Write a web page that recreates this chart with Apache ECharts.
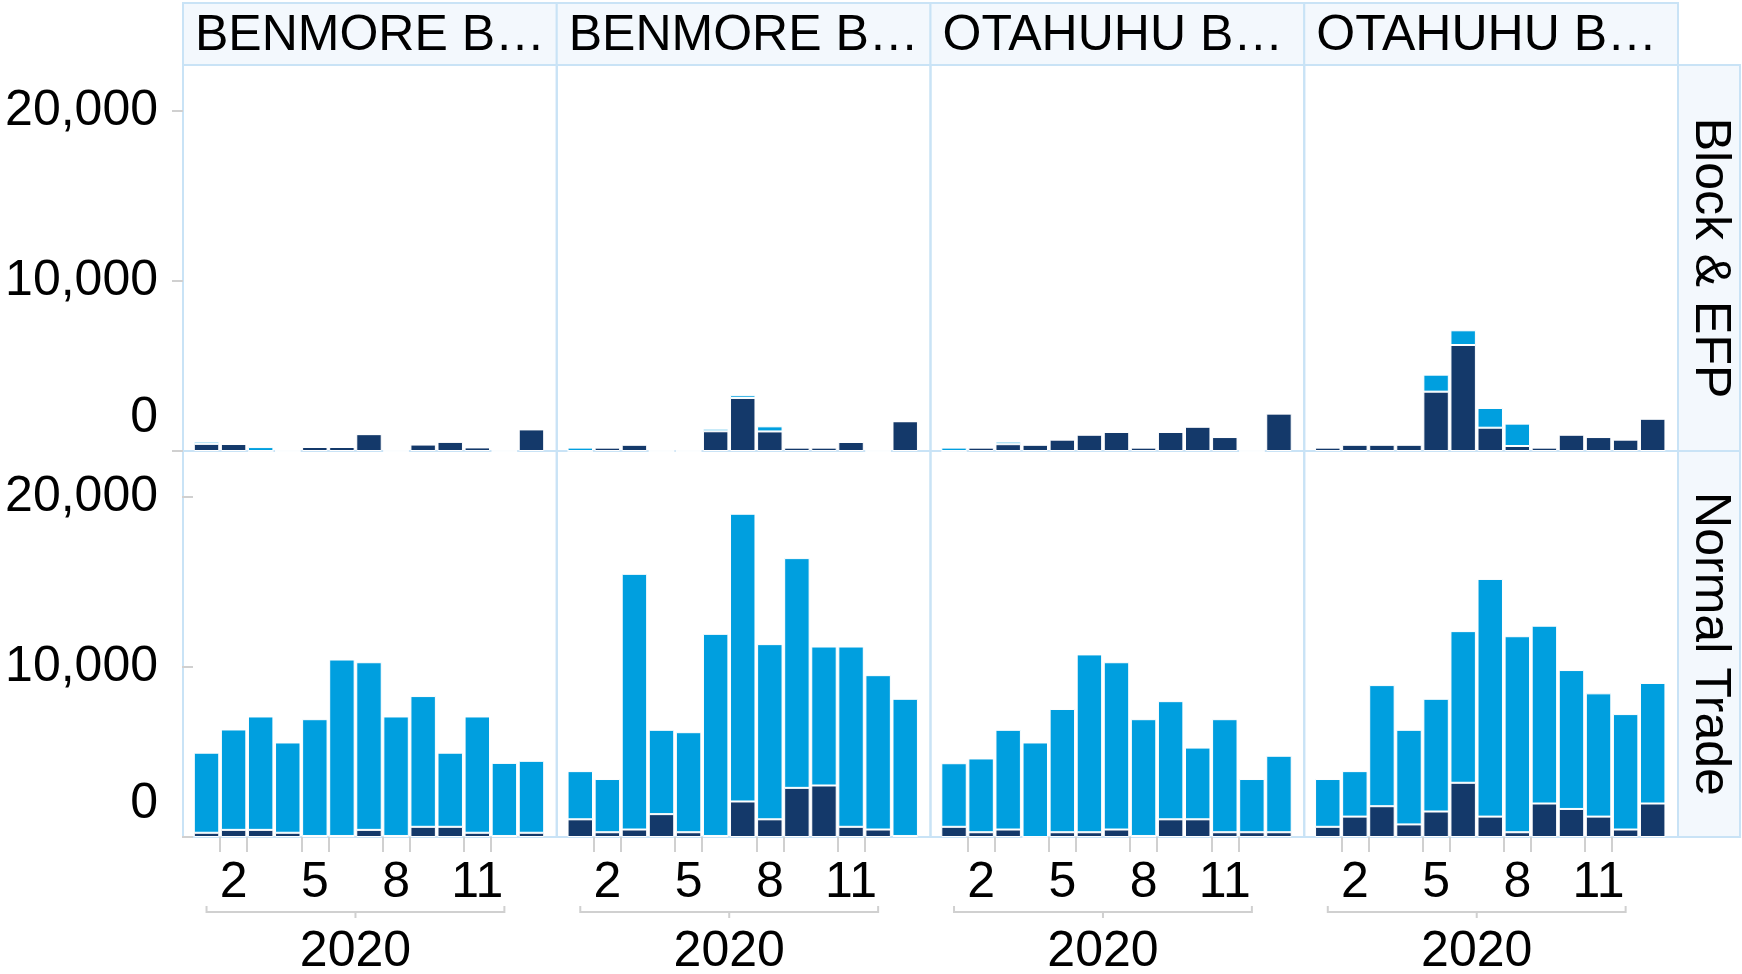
<!DOCTYPE html>
<html>
<head>
<meta charset="utf-8">
<script src="https://cdn.jsdelivr.net/npm/echarts@6/dist/echarts.min.js"></script>
<style>
html,body{margin:0;padding:0;background:#fff;}
#chart{width:1742px;height:974px;}
</style>
</head>
<body>
<div id="chart"></div>
<script>
// ---------- data ----------
const months = ['2020-01','2020-02','2020-03','2020-04','2020-05','2020-06','2020-07',
                '2020-08','2020-09','2020-10','2020-11','2020-12','2021-01'];
const labelledMonths = ['2020-02','2020-05','2020-08','2020-11'];
const tickBoundaries = [1, 2, 4, 5, 7, 8, 10, 11];
const yearSpan = ['2020-01', '2020-12'];
const yearLabel = '2020';
const panelTitles = ['BENMORE B…', 'BENMORE B…', 'OTAHUHU B…', 'OTAHUHU B…'];
const rowTitles = ['Block & EFP', 'Normal Trade'];
const yTickValues = [0, 10000, 20000];

// Panel 1
const p1BlockDark   = [420, 410, 0, 0, 235, 235, 990, 0, 380, 540, 210, 0, 1270];
const p1BlockLight  = [130, 0, 230, 0, 0, 0, 0, 0, 0, 0, 0, 0, 0];
const p1NormalDark  = [250, 420, 420, 250, 60, 60, 420, 60, 600, 600, 250, 60, 250];
const p1NormalLight = [4710, 5905, 6670, 5310, 6870, 10380, 9860, 7030, 7690, 4360, 6840, 4300, 4230];
// Panel 2
const p2BlockDark   = [0, 200, 370, 0, 0, 1160, 3120, 1150, 200, 200, 530, 0, 1750];
const p2BlockLight  = [200, 0, 0, 0, 0, 150, 160, 300, 0, 0, 0, 0, 0];
const p2NormalDark  = [1040, 280, 440, 1345, 280, 60, 2090, 1040, 2890, 3030, 600, 440, 60];
const p2NormalLight = [2835, 3130, 15040, 4960, 5885, 11890, 16925, 10305, 13515, 8175, 10605, 9080, 8070];
// Panel 3
const p3BlockDark   = [0, 200, 400, 370, 670, 960, 1120, 200, 1120, 1430, 820, 0, 2200];
const p3BlockLight  = [200, 0, 150, 0, 0, 0, 0, 0, 0, 0, 0, 0, 0];
const p3NormalDark  = [600, 280, 440, 0, 280, 280, 440, 60, 1040, 1040, 280, 280, 280];
const p3NormalLight = [3740, 4340, 5865, 5560, 7250, 10460, 9840, 6870, 6950, 4220, 6650, 3130, 4500];
// Panel 4
const p4BlockDark   = [200, 370, 370, 370, 3490, 6235, 1370, 295, 200, 960, 820, 670, 1900];
const p4BlockLight  = [0, 0, 0, 0, 1000, 865, 1160, 1315, 0, 0, 0, 0, 0];
const p4NormalDark  = [600, 1200, 1810, 740, 1500, 3190, 1200, 280, 1970, 1650, 1200, 440, 1970];
const p4NormalLight = [2810, 2675, 7125, 5565, 6630, 8920, 13980, 11530, 10460, 8170, 7250, 6790, 7090];

const panelData = [
  [[p1BlockDark, p1BlockLight], [p2BlockDark, p2BlockLight], [p3BlockDark, p3BlockLight], [p4BlockDark, p4BlockLight]],
  [[p1NormalDark, p1NormalLight], [p2NormalDark, p2NormalLight], [p3NormalDark, p3NormalLight], [p4NormalDark, p4NormalLight]]
];

// ---------- styling / layout ----------
const FONT = '"Liberation Sans", Arial, Helvetica, sans-serif';
const FS = 50;
const TXT = '#000';
const DARK = '#14396A';
const LIGHT = '#009FDF';
const EDGE = '#C9E3F6';
const BG = '#F3F8FD';
const GREY = '#D0D0D0';
const PL = 183, PW = 373.75, ROW_T = [65, 451], RH = 386;
const GIN = 10, GW = 352, YMAX = 22706;
const HEAD_T = 3, STRIP_L = PL + 4 * PW, STRIP_W = 62;

const chart = echarts.init(document.getElementById('chart'), null, {renderer: 'canvas'});

const grids = [], xAxes = [], yAxes = [], series = [];
const tickAxes = [];
for (let r = 0; r < 2; r++) {
  for (let c = 0; c < 4; c++) {
    const g = r * 4 + c;
    grids.push({left: PL + c * PW + GIN, top: ROW_T[r], width: GW, height: RH, containLabel: false});
    xAxes.push({
      type: 'category', gridIndex: g, data: months, boundaryGap: true,
      axisLine: {show: false}, axisTick: {show: false}, splitLine: {show: false},
      axisLabel: {
        show: r === 1,
        interval: (i, v) => labelledMonths.includes(v),
        formatter: v => String(Number(v.slice(5))),
        fontSize: FS, fontFamily: FONT, color: TXT, margin: 21
      }
    });
    yAxes.push({
      type: 'value', gridIndex: g, min: 0, max: YMAX,
      offset: c === 0 ? GIN : 0,
      splitLine: {show: false},
      axisLine: {show: false},
      axisTick: {show: c === 0, length: 11, customValues: yTickValues, lineStyle: {color: GREY, width: 2}},
      axisLabel: {
        show: c === 0, customValues: yTickValues, margin: 25,
        fontSize: FS, fontFamily: FONT, color: TXT,
        formatter: v => v === 0 ? '{z|0}' : v.toLocaleString('en-US'),
        rich: {z: {fontSize: FS, fontFamily: FONT, color: TXT, padding: [0, 0, 66, 0]}}
      }
    });
    const [dark, light] = panelData[r][c];
    series.push({
      type: 'bar', name: 'Dark', xAxisIndex: g, yAxisIndex: g, stack: 's' + g, data: dark,
      barCategoryGap: '6%', itemStyle: {color: DARK, borderColor: '#fff', borderWidth: 1},
      emphasis: {disabled: true}
    });
    series.push({
      type: 'bar', name: 'Light', xAxisIndex: g, yAxisIndex: g, stack: 's' + g, data: light,
      barCategoryGap: '6%', itemStyle: {color: LIGHT, borderColor: '#fff', borderWidth: 1},
      emphasis: {disabled: true}
    });
    if (r === 1) tickAxes.push(g);
  }
}
// tick-mark axes for bottom row (ticks at month boundaries around labelled months)
tickAxes.forEach(g => {
  xAxes.push({
    type: 'value', gridIndex: g, min: 0, max: months.length, position: 'bottom',
    axisLine: {show: false}, splitLine: {show: false}, axisLabel: {show: false},
    axisTick: {show: true, length: 15, customValues: tickBoundaries, lineStyle: {color: GREY, width: 2}}
  });
});

// static graphics: headers, panel borders, row strips
const staticGraphics = [];
for (let c = 0; c < 4; c++) {
  staticGraphics.push({
    type: 'rect', id: 'head' + c, z: 0,
    shape: {x: PL + c * PW, y: HEAD_T, width: PW, height: ROW_T[0] - HEAD_T},
    style: {fill: BG, stroke: EDGE, lineWidth: 2}
  });
  staticGraphics.push({
    type: 'text', id: 'headT' + c, z: 1, x: PL + c * PW + 12, y: (HEAD_T + ROW_T[0]) / 2 + 2,
    style: {text: panelTitles[c], font: FS + 'px ' + FONT, fill: TXT, align: 'left', verticalAlign: 'middle'}
  });
  for (let r = 0; r < 2; r++) {
    staticGraphics.push({
      type: 'rect', id: 'pan' + r + c, z: 0,
      shape: {x: PL + c * PW, y: ROW_T[r], width: PW, height: RH},
      style: {fill: 'none', stroke: EDGE, lineWidth: 2}
    });
  }
}
for (let r = 0; r < 2; r++) {
  staticGraphics.push({
    type: 'rect', id: 'strip' + r, z: 0,
    shape: {x: STRIP_L, y: ROW_T[r], width: STRIP_W, height: RH},
    style: {fill: BG, stroke: EDGE, lineWidth: 2}
  });
  staticGraphics.push({
    type: 'text', id: 'stripT' + r, z: 1, x: STRIP_L + STRIP_W / 2 + 1, y: ROW_T[r] + RH / 2,
    rotation: -Math.PI / 2,
    style: {text: rowTitles[r], font: FS + 'px ' + FONT, fill: TXT, align: 'center', verticalAlign: 'middle'}
  });
}

chart.setOption({
  animation: false,
  grid: grids, xAxis: xAxes, yAxis: yAxes, series: series,
  graphic: {elements: staticGraphics}
});

// year brackets under the bottom row, positioned through the axes' own scales
const brackets = [];
const baseY = ROW_T[1] + RH;
tickAxes.forEach((g, k) => {
  const i0 = months.indexOf(yearSpan[0]), i1 = months.indexOf(yearSpan[1]);
  const x0 = chart.convertToPixel({xAxisIndex: g}, i0);
  const x1 = chart.convertToPixel({xAxisIndex: g}, i1);
  const xm = (x0 + x1) / 2;
  const by = baseY + 75;
  brackets.push({
    type: 'polyline', id: 'br' + k, z: 1,
    shape: {points: [[x0, by - 6], [x0, by], [x1, by], [x1, by - 6]]},
    style: {stroke: GREY, lineWidth: 2, fill: 'none'}
  });
  brackets.push({
    type: 'line', id: 'brm' + k, z: 1,
    shape: {x1: xm, y1: by, x2: xm, y2: by + 6},
    style: {stroke: GREY, lineWidth: 2}
  });
  brackets.push({
    type: 'text', id: 'yr' + k, z: 1, x: xm, y: by + 40,
    style: {text: yearLabel, font: FS + 'px ' + FONT, fill: TXT, align: 'center', verticalAlign: 'middle'}
  });
});
chart.setOption({graphic: {elements: staticGraphics.concat(brackets)}});
</script>
</body>
</html>
